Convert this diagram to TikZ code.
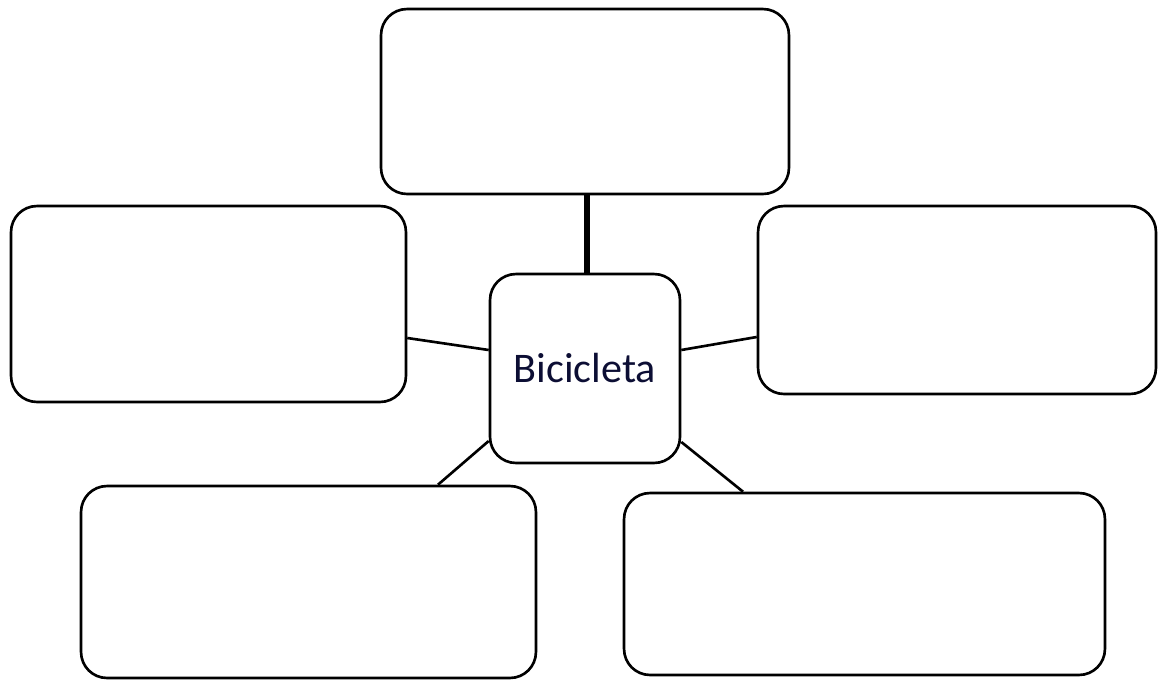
\documentclass[tikz,border=0pt]{standalone}
\usepackage{fontspec}
\setmainfont{Carlito}
\definecolor{tinta}{RGB}{12,14,52}
\begin{document}
\begin{tikzpicture}[x=0.02cm,y=-0.02cm]

      \useasboundingbox (0,0) rectangle (1159,680);

      \begin{scope}[every node/.style={rectangle,draw,rounded corners=0.52cm,line width=1.5pt,inner sep=0pt}]
        \node (arriba)    at (585,101.5) [minimum width=8.16cm,minimum height=3.70cm] {};
        \node (izq)       at (208.5,304) [minimum width=7.90cm,minimum height=3.92cm] {};
        \node (der)       at (957,300)   [minimum width=7.96cm,minimum height=3.76cm] {};
        \node (abajoizq)  at (308.5,582) [minimum width=9.10cm,minimum height=3.84cm] {};
        \node (abajoder)  at (864.5,584) [minimum width=9.62cm,minimum height=3.64cm] {};
        \node (centro)    at (585,368.5) [minimum width=3.80cm,minimum height=3.78cm,
                                          text=tinta,font=\fontsize{24}{28}\selectfont] {Bicicleta};
      \end{scope}

      \begin{scope}[every edge/.style={draw,line width=1.5pt}]
        \path ([xshift=0.04cm]arriba.south) edge[line width=3pt] ([xshift=0.04cm]centro.north);
        \path ([yshift=-0.68cm]izq.east) edge ([yshift=0.37cm]centro.west);
        \path ([yshift=0.37cm]centro.east) edge ([yshift=-0.74cm]der.west);
        \path ([yshift=-1.45cm]centro.west) edge ([xshift=2.59cm]abajoizq.north);
        \path ([yshift=-1.47cm]centro.east) edge ([xshift=-2.43cm]abajoder.north);
      \end{scope}

    \end{tikzpicture}
\end{document}
